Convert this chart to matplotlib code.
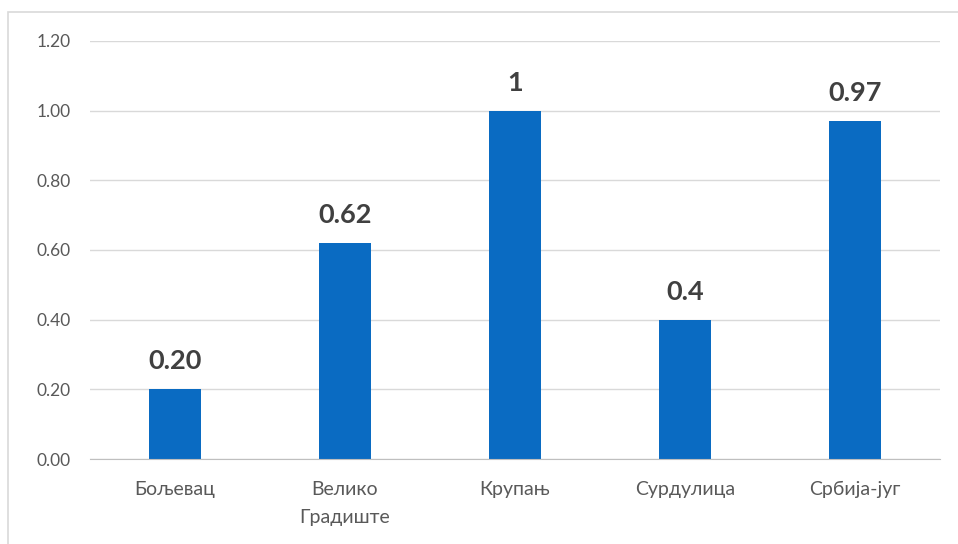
import matplotlib
matplotlib.use("Agg")
import matplotlib.pyplot as plt
from matplotlib.patches import Rectangle

categories = ["Бољевац", "Велико\nГрадиште", "Крупањ", "Сурдулица", "Србија-југ"]
values = [0.20, 0.62, 1.0, 0.40, 0.97]
value_labels = ["0.20", "0.62", "1", "0.4", "0.97"]
yticks = [0.0, 0.2, 0.4, 0.6, 0.8, 1.0, 1.2]

plt.rcParams['font.family'] = ['Lato', 'DejaVu Sans']

fig = plt.figure(figsize=(9.58, 5.44), dpi=100)
ax = fig.add_axes([90/958, 1-459/544, 850/958, 418/544])

x = list(range(len(categories)))
bars = ax.bar(x, values, width=0.31, color="#0a6bc2", zorder=3)

ax.set_ylim(0, 1.2)
ax.set_xlim(-0.5, len(categories) - 0.5)
ax.set_yticks(yticks)
ax.set_yticklabels([f"{v:.2f}" for v in yticks], color="#595959", fontsize=12.5)
ax.set_xticks(x)
ax.set_xticklabels(categories, color="#595959", fontsize=14, linespacing=1.8)
ax.tick_params(axis='y', length=0, pad=14)
ax.tick_params(axis='x', length=0, pad=16)
ax.grid(axis='y', color="#d9d9d9", linewidth=1, zorder=0)
for s in ['top', 'right', 'left']:
    ax.spines[s].set_visible(False)
ax.spines['bottom'].set_color("#bfbfbf")
ax.spines['bottom'].set_zorder(4)

for xi, v, lab in zip(x, values, value_labels):
    ax.annotate(lab, (xi, v), xytext=(0, 14.5), textcoords="offset points",
                ha="center", va="baseline", fontsize=19.5, fontweight="bold",
                color="#404040")

fig.patches.append(Rectangle((8/958, -10/544), 970/958, 542/544,
                             transform=fig.transFigure, fill=False,
                             edgecolor="#d9d9d9", linewidth=1.2))

fig.savefig("out.png", dpi=100)
